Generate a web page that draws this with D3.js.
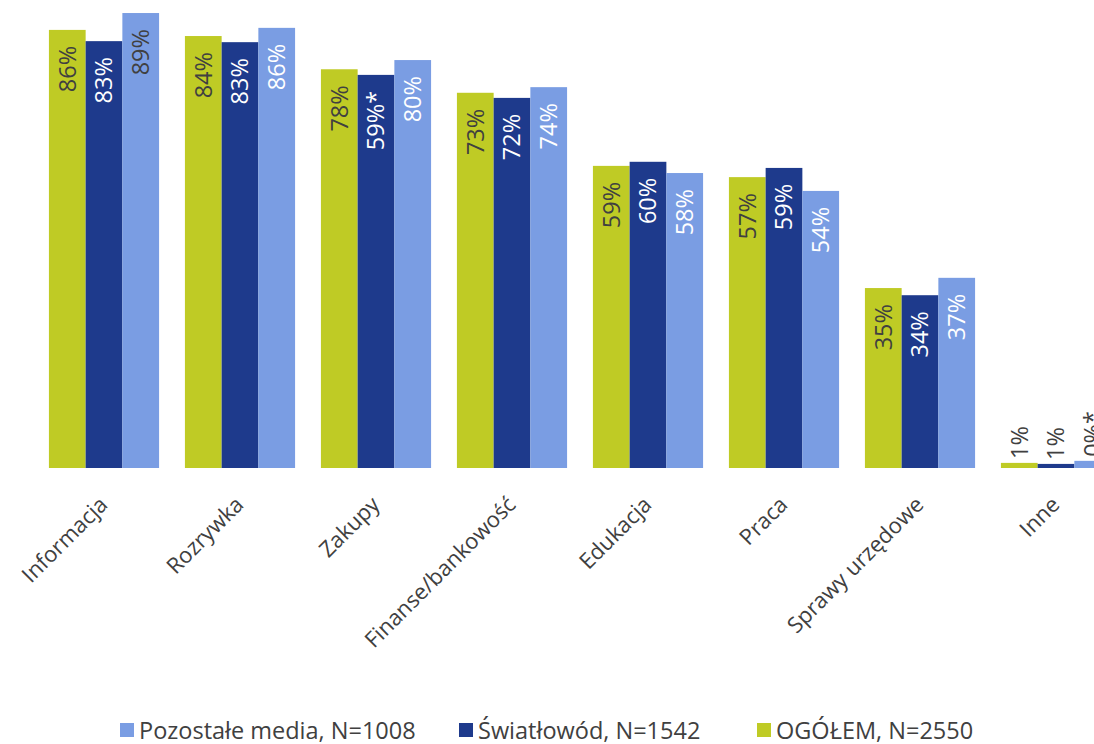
<!DOCTYPE html>
<html>
<head>
<meta charset="utf-8">
<script src="https://cdn.jsdelivr.net/npm/d3@7/dist/d3.min.js"></script>
<style>
  html, body { margin: 0; padding: 0; background: #fff; }
  svg { display: block; }
</style>
</head>
<body>
<svg id="chart" width="1094" height="744"></svg>
<script>
// ---- DATA ----
const categories = ["Informacja", "Rozrywka", "Zakupy", "Finanse/bankowość", "Edukacja", "Praca", "Sprawy urzędowe", "Inne"];
const seriesNames = ["OGÓŁEM, N=2550", "Światłowód, N=1542", "Pozostałe media, N=1008"];
// bar heights as drawn (percent)
const ogolemValues     = [85.7, 84.5, 78.0, 73.4, 59.1, 56.9, 35.2, 1.0];
const swiatlowodValues = [83.5, 83.3, 76.9, 72.4, 59.9, 58.7, 33.8, 0.8];
const pozostaleValues  = [89.0, 86.1, 79.8, 74.5, 57.7, 54.2, 37.2, 1.4];
// data labels as printed
const ogolemLabels     = ["86%", "84%", "78%", "73%", "59%", "57%", "35%", "1%"];
const swiatlowodLabels = ["83%", "83%", "59%*", "72%", "60%", "59%", "34%", "1%"];
const pozostaleLabels  = ["89%", "86%", "80%", "74%", "58%", "54%", "37%", "0%*"];
const legendOrder = [2, 1, 0];

// ---- STYLE ----
const colors = ["#BFCB25", "#1E3A8C", "#7A9DE3"];
const labelColors = ["#404040", "#ffffff", "#ffffff"];
const textGrey = "#404040";

const series = [
  { name: seriesNames[0], values: ogolemValues, labels: ogolemLabels },
  { name: seriesNames[1], values: swiatlowodValues, labels: swiatlowodLabels },
  { name: seriesNames[2], values: pozostaleValues, labels: pozostaleLabels }
];

const svg = d3.select("#chart");
const baseY = 468;

const x0 = d3.scaleBand().domain(categories).range([36, 1124]).paddingInner(0.19).paddingOuter(0.095);
const x1 = d3.scaleBand().domain(d3.range(series.length)).range([0, x0.bandwidth()]);
const y = d3.scaleLinear().domain([0, 100]).range([baseY, baseY - 511.2]);

const groups = svg.append("g").selectAll("g")
  .data(categories)
  .join("g")
  .attr("transform", d => `translate(${x0(d)},0)`);

groups.selectAll("rect")
  .data((d, i) => series.map((s, si) => ({ si, v: s.values[i] })))
  .join("rect")
  .attr("x", d => x1(d.si))
  .attr("width", x1.bandwidth())
  .attr("y", d => y(d.v))
  .attr("height", d => baseY - y(d.v))
  .attr("fill", d => colors[d.si]);

// data labels
groups.selectAll("text.lbl")
  .data((d, i) => series.map((s, si) => ({ si, i, v: s.values[i], t: s.labels[i] })))
  .join("text")
  .attr("class", "lbl")
  .attr("font-family", "'Open Sans', sans-serif")
  .attr("font-size", 23.5)
  .attr("dy", "0.36em")
  .attr("text-anchor", d => d.v < 10 ? "start" : "end")
  .attr("fill", d => (d.v < 10 || (d.si === 2 && d.i === 0)) ? textGrey : labelColors[d.si])
  .attr("transform", d => {
    const cx = x1(d.si) + x1.bandwidth() / 2;
    const yy = d.v < 10 ? y(d.v) - 4 : y(d.v) + 16;
    return `translate(${cx},${yy}) rotate(-90)`;
  })
  .text(d => d.t);

// category axis labels
const xAxis = d3.axisBottom(x0).tickSize(0).tickPadding(0);
const axG = svg.append("g").attr("transform", `translate(0,${baseY})`).call(xAxis);
axG.select(".domain").remove();
axG.selectAll("text")
  .attr("font-family", "'Open Sans', sans-serif")
  .attr("font-size", 22)
  .attr("fill", textGrey)
  .attr("text-anchor", "end")
  .attr("dy", 0)
  .attr("y", 0)
  .attr("transform", "translate(5,38) rotate(-45)");

// legend
const legendX = [120, 459, 757];
const leg = svg.append("g").selectAll("g")
  .data(legendOrder)
  .join("g")
  .attr("transform", (d, k) => `translate(${legendX[k]},723)`);
leg.append("rect").attr("width", 14).attr("height", 14).attr("fill", d => colors[d]);
leg.append("text")
  .attr("x", 19).attr("y", 15.5)
  .attr("font-family", "'Open Sans', sans-serif")
  .attr("font-size", 23.5)
  .attr("fill", textGrey)
  .text(d => series[d].name);
</script>
</body>
</html>
